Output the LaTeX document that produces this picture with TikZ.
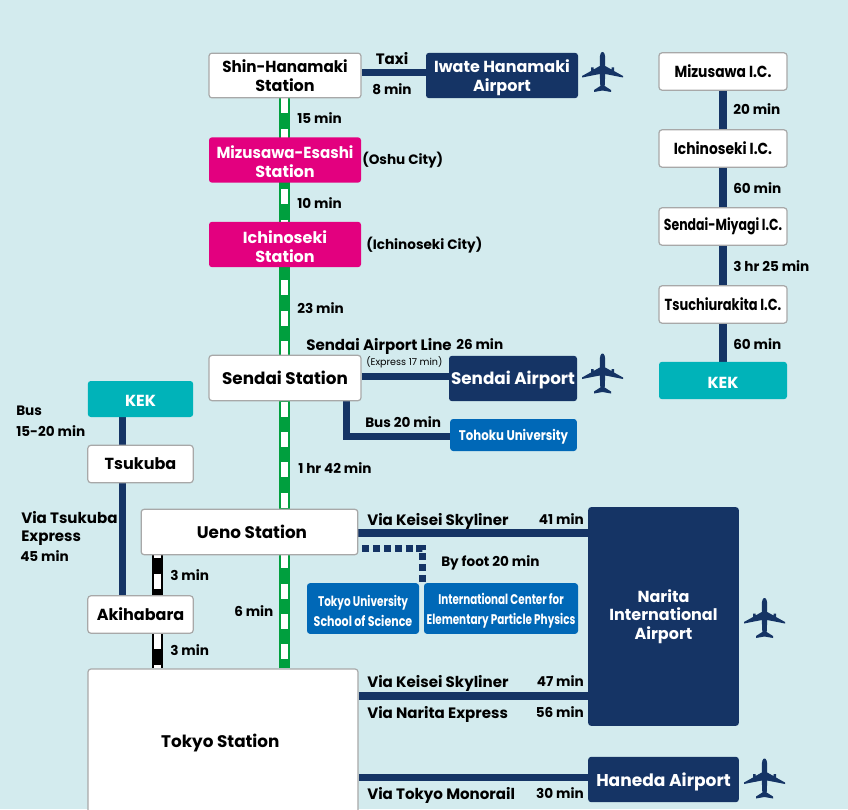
\documentclass[tikz,border=0pt]{standalone}
\usepackage{graphicx}
\usepackage{fontspec}
\setmainfont{Poppins}
\usetikzlibrary{backgrounds}

\definecolor{bgcol}{HTML}{D3EBEE}
\definecolor{navycol}{HTML}{153465}
\definecolor{pinkcol}{HTML}{E3007F}
\definecolor{tealcol}{HTML}{00B3B9}
\definecolor{bluecol}{HTML}{0068B7}
\definecolor{greencol}{HTML}{009F3E}
\definecolor{edgecol}{HTML}{A8A8A8}

% squeeze a line of text and drop it a little
\newcommand{\fitline}[2]{\raisebox{-1.5pt}[\height][\depth]{\scalebox{#1}[1]{#2}}}

\tikzset{
  box/.style={rectangle, rounded corners=2.2pt, inner sep=0pt, align=center, font=\fontsize{12}{14.2}\selectfont\bfseries},
  large/.style={font=\fontsize{12.6}{14.2}\selectfont\bfseries},
  station/.style={box, draw=edgecol, line width=0.9pt, fill=white, text=black},
  pinkbox/.style={box, fill=pinkcol, text=white},
  navybox/.style={box, fill=navycol, text=white},
  tealbox/.style={box, fill=tealcol, text=white},
  bluebox/.style={box, fill=bluecol, text=white, font=\fontsize{10.5}{15}\selectfont\bfseries},
  lab/.style={anchor=west, inner sep=0pt, text=black, font=\fontsize{10.2}{12}\selectfont\bfseries},
  labbig/.style={lab, font=\fontsize{11.3}{13}\selectfont\bfseries},
  labr/.style={lab, anchor=east},
  road/.style={navycol, line width=5.6pt},
  walk/.style={navycol, line width=5.4pt, dash pattern=on 5.2pt off 2.9pt},
  rail/.style={line width=8pt, postaction={draw=white, line width=5pt, dash pattern=on 11.25pt off 11.5pt, dash phase=#1}},
  planeicon/.pic={
    \fill[navycol] (0,-20) .. controls (1.8,-20) and (2.7,-17) .. (2.7,-13) -- (2.7,-6)
      -- (9,-2.5) -- (9,-4.5) -- (11.5,-4.5) -- (11.5,-1)
      -- (20.5,4) -- (20.5,5.5) -- (2.7,2) -- (2.2,14) -- (8.5,18) -- (8.5,20) -- (0,18.5)
      -- (-8.5,20) -- (-8.5,18) -- (-2.2,14) -- (-2.7,2) -- (-20.5,5.5) -- (-20.5,4)
      -- (-11.5,-1) -- (-11.5,-4.5) -- (-9,-4.5) -- (-9,-2.5) -- (-2.7,-6) -- (-2.7,-13)
      .. controls (-2.7,-17) and (-1.8,-20) .. (0,-20) -- cycle;
  }
}

\begin{document}
\begin{tikzpicture}[x=0.75pt, y=-0.75pt]

  \useasboundingbox (0,0) rectangle (848,809);

  % Central line stations
  \node[station, minimum width=114pt, minimum height=33.5pt] (shin) at (285,75.5) {\scalebox{.95}[1]{Shin-Hanamaki}\\Station};
  \node[pinkbox, minimum width=114pt, minimum height=34pt] (mizusawa) at (285,160) {\fitline{.945}{Mizusawa-Esashi}\\\fitline{1}{Station}};
  \node[pinkbox, minimum width=114pt, minimum height=34pt] (ichinoseki) at (285,244.5) {\fitline{1}{Ichinoseki}\\\fitline{1}{Station}};
  \node[station, large, minimum width=114pt, minimum height=34pt] (sendai) at (285,378) {Sendai Station};
  \node[station, large, minimum width=162.5pt, minimum height=34pt] (ueno) at (249.5,532) {\hspace*{3.7pt}Ueno Station};
  \node[station, large, minimum width=202.5pt, minimum height=108pt] (tokyo) at (223,741) {\fitline{1}{Tokyo Station}\hspace*{4pt}};

  % Airports and universities
  \node[navybox, minimum width=114pt, minimum height=34pt] (hanamaki) at (502,75.5) {\fitline{1}{Iwate Hanamaki}\\\fitline{1}{Airport}};
  \node[navybox, large, minimum width=96pt, minimum height=34pt] (sendaiair) at (513,378.5) {\fitline{1}{Sendai Airport}};
  \node[bluebox, minimum width=95pt, minimum height=24pt] (tohoku) at (513.5,435) {\fitline{.84}{Tohoku University}};
  \node[navybox, minimum width=113pt, minimum height=164pt, font=\fontsize{12}{14}\selectfont\bfseries] (narita) at (663.5,616.5) {Narita\\International\\Airport};
  \node[navybox, font=\fontsize{12.8}{15}\selectfont\bfseries, minimum width=113pt, minimum height=34pt] (haneda) at (663.5,779.5) {\fitline{1}{Haneda Airport}};
  \node[bluebox, minimum width=84pt, minimum height=38pt] (science) at (363,608.5) {\fitline{.75}{Tokyo University}\\\fitline{.79}{School of Science}};
  \node[bluebox, minimum width=115.5pt, minimum height=38pt] (icepp) at (501,608.5) {\fitline{.74}{International Center for}\\\fitline{.745}{Elementary Particle Physics}};

  % Tsukuba column
  \node[tealbox, minimum width=79pt, minimum height=27pt] (kekleft) at (140.5,399) {\fitline{1}{KEK}};
  \node[station, minimum width=79pt, minimum height=28pt] (tsukuba) at (140.5,464) {Tsukuba};
  \node[station, minimum width=79pt, minimum height=28pt] (akihabara) at (140.5,614.5) {Akihabara};

  % Expressway column
  \node[station, minimum width=96pt, minimum height=28pt] (icmizusawa) at (723,71.5) {\scalebox{.865}[1]{Mizusawa I.C.}};
  \node[station, minimum width=96pt, minimum height=28pt] (icichinoseki) at (723,148.5) {\scalebox{.865}[1]{Ichinoseki I.C.}};
  \node[station, minimum width=96pt, minimum height=28pt] (icsendai) at (723,226.5) {\scalebox{.78}[1]{Sendai-Miyagi I.C.}};
  \node[station, minimum width=96pt, minimum height=28pt] (ictsuchiura) at (723,304.5) {\scalebox{.81}[1]{Tsuchiurakita I.C.}};
  \node[tealbox, minimum width=96pt, minimum height=28pt] (kekright) at (723,380.5) {\fitline{1}{KEK}};

  \coordinate (green) at (284.6,0);
  \coordinate (black) at (157.5,0);
  \coordinate (tsukubax) at (122.5,0);
  \coordinate (busx) at (346.4,0);
  \coordinate (walkx) at (422.5,0);
  \coordinate (taxiy) at (0,72.7);
  \coordinate (airy) at (0,376.4);
  \coordinate (busy) at (0,436.4);
  \coordinate (walky) at (0,548.5);
  \coordinate (uenoy) at (0,532.8);
  \coordinate (tokyoy) at (0,696);
  \coordinate (monoy) at (0,777.5);

  \begin{scope}[on background layer]
    \fill[bgcol] (0,0) rectangle (848,809);

    % Rail lines
    \draw[rail=0pt, greencol] (green |- shin.south) -- (green |- tokyo.north);
    \draw[rail=9pt, black] (black |- ueno.south) -- (black |- tokyo.north);

    % Roads and buses
    \draw[road] (shin.east |- taxiy) -- (hanamaki.west |- taxiy);
    \draw[road] (sendai.east |- airy) -- (sendaiair.west |- airy);
    \draw[road] (busx |- sendai.south) -- (busx |- busy) -- (tohoku.west |- busy);
    \draw[road] (ueno.east |- uenoy) -- (narita.west |- uenoy);
    \draw[road] (tokyo.east |- tokyoy) -- (narita.west |- tokyoy);
    \draw[road] (tokyo.east |- monoy) -- (haneda.west |- monoy);
    \draw[road] (tsukubax |- kekleft.south) -- (tsukubax |- akihabara.north);
    \draw[road] (icmizusawa) -- (kekright);

    % Footpath from Ueno
    \draw[walk] (ueno.east |- walky) ++(4,0) -- (walkx |- walky) -- (walkx |- icepp.north);
  \end{scope}

  % Labels
  \node[labbig, anchor=center] (taxi) at (392,59) {Taxi};
  \node[lab, anchor=center] (taximin) at (392,89) {8 min};
  \node[lab] (l15) at (297,118) {15 min};
  \node[lab] (oshu) at (362,160) {(Oshu City)};
  \node[lab] (l10) at (297,203) {10 min};
  \node[lab] (ichicity) at (366,245) {(Ichinoseki City)};
  \node[lab] (l23) at (297,308) {23 min};
  \node[labbig] (airline) at (306,346) {Sendai Airport Line};
  \node[lab] (l26) at (456,344) {26 min};
  \node[lab, font=\fontsize{7.2}{8}\selectfont] (express) at (366,362) {(Express 17 min)};
  \node[lab] (bus20) at (365,422) {Bus 20 min};
  \node[lab] (l142) at (298,468) {1 hr 42 min};
  \node[labbig] (skyliner) at (367,521.5) {Via Keisei Skyliner};
  \node[labr] (l41) at (584,519) {41 min};
  \node[lab] (foot) at (441,563) {By foot 20 min};
  \node[lab] (ak1) at (170,575) {3 min};
  \node[lab] (ak2) at (170,650) {3 min};
  \node[lab] (l6) at (234,611) {6 min};
  \node[lab] (kekbus) at (16,411) {Bus};
  \node[lab] (kekmin) at (16,431) {15-20 min};
  \node[labbig] (viatx) at (21,518) {Via Tsukuba};
  \node[labbig] (txexp) at (21,538) {Express};
  \node[lab] (l45) at (20,556) {45 min};
  \node[labbig] (skyliner2) at (367,683.5) {Via Keisei Skyliner};
  \node[labr] (l47) at (584,681) {47 min};
  \node[labbig] (nex) at (367,714) {Via Narita Express};
  \node[labr] (l56) at (584,712) {56 min};
  \node[labbig] (mono) at (367,795) {Via Tokyo Monorail};
  \node[labr] (l30) at (584,793) {30 min};
  \node[lab] (r20) at (733,109) {20 min};
  \node[lab] (r60a) at (733,188) {60 min};
  \node[lab] (r325) at (733,266) {3 hr 25 min};
  \node[lab] (r60b) at (733,344) {60 min};

  % Planes
  \pic at (602.5,72) {planeicon};
  \pic at (602.5,373.5) {planeicon};
  \pic at (764.5,618) {planeicon};
  \pic at (764.5,778.5) {planeicon};

\end{tikzpicture}
\end{document}
